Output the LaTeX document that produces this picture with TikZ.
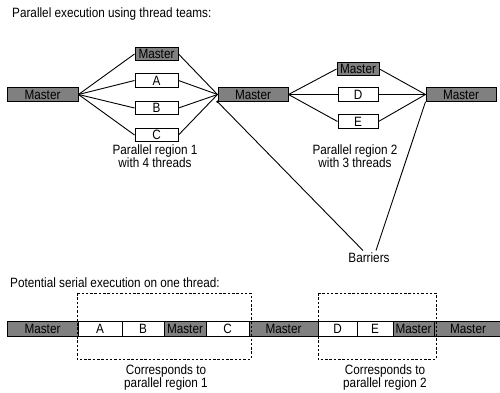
\documentclass[tikz,border=0pt]{standalone}
\usepackage{fontspec}
\setmainfont{Liberation Sans}[FakeStretch=0.87]
\begin{document}
\begin{tikzpicture}[x=1pt,y=-1pt,
  every node/.style={font=\fontsize{13.5}{13.5}\selectfont, inner sep=0pt},
  gbox/.style={draw=black, line width=1pt, fill=black!50, minimum height=13.5pt},
  wbox/.style={draw=black, line width=1pt, fill=white, minimum height=13.5pt},
  seg/.style={draw=black, line width=1pt, minimum height=15pt},
  conn/.style={line width=0.9pt},
  dbox/.style={draw=black, line width=0.9pt, dash pattern=on 2.5pt off 1.8pt},
  lbl/.style={align=center}]
\useasboundingbox (0,0) rectangle (500,393);

\node[anchor=base west] (t1) at (12,17.5) {Parallel execution using thread teams:};

% top row
\node[gbox, minimum width=71pt] (m0) at (42.5,94.5) {Master};
\node[gbox, minimum width=43pt] (r1m) at (156.5,54) {Master};
\node[wbox, minimum width=43pt] (a) at (156.5,80.5) {A};
\node[wbox, minimum width=43pt] (b) at (156.5,108) {B};
\node[wbox, minimum width=43pt] (c) at (156.5,135) {C};
\node[gbox, minimum width=70pt] (m1) at (253,94.5) {Master};
\node[gbox, minimum width=42pt] (r2m) at (358,69) {Master};
\node[wbox, minimum width=40pt] (d) at (358,94.5) {D};
\node[wbox, minimum width=40pt] (e) at (358,121.5) {E};
\node[gbox, minimum width=70pt] (m2) at (461,94.5) {Master};

\foreach \n in {r1m,a,b,c}{
  \draw[conn] (m0.east) -- (\n.west);
  \draw[conn] (\n.east) -- (m1.west);
}
\foreach \n in {r2m,d,e}{
  \draw[conn] (m1.east) -- (\n.west);
  \draw[conn] (\n.east) -- (m2.west);
}

\node[lbl] (l1) at (155,156) {Parallel region 1\\with 4 threads};
\node[lbl] (l2) at (355,156) {Parallel region 2\\with 3 threads};

\node (bar) at (369,258) {Barriers};
\coordinate (bl) at (363,250.5);
\coordinate (br) at (376,250.5);
\draw[conn] (m1.south west) -- (bl);
\draw[conn] (m2.south west) -- (br);
\fill (m1.south west) circle (1.3pt);

% bottom
\node[anchor=base west] (t2) at (10,287) {Potential serial execution on one thread:};

\node[seg, fill=black!50, minimum width=71pt] (s1) at (42.5,328.5) {Master};
\node[seg, fill=white, minimum width=44pt] (s2) at (100,328.5) {A};
\node[seg, fill=white, minimum width=42pt] (s3) at (143,328.5) {B};
\node[seg, fill=black!50, minimum width=42pt] (s4) at (185,328.5) {Master};
\node[seg, fill=white, minimum width=43pt] (s5) at (227.5,328.5) {C};
\node[seg, fill=black!50, minimum width=69pt] (s6) at (283.5,328.5) {Master};
\node[seg, fill=white, minimum width=39pt] (s7) at (337.5,328.5) {D};
\node[seg, fill=white, minimum width=36pt] (s8) at (375,328.5) {E};
\node[seg, fill=black!50, minimum width=41pt] (s9) at (413.5,328.5) {Master};
\node[seg, fill=black!50, minimum width=68pt] (s10) at (468,328.5) {Master};

\draw[dbox] (77,293) rectangle (251,359);
\draw[dbox] (318,293) rectangle (436,359);

\node[lbl] (c1) at (166,377.5) {Corresponds to\\parallel region 1};
\node[lbl] (c2) at (385,377.5) {Corresponds to\\parallel region 2};
\end{tikzpicture}
\end{document}
